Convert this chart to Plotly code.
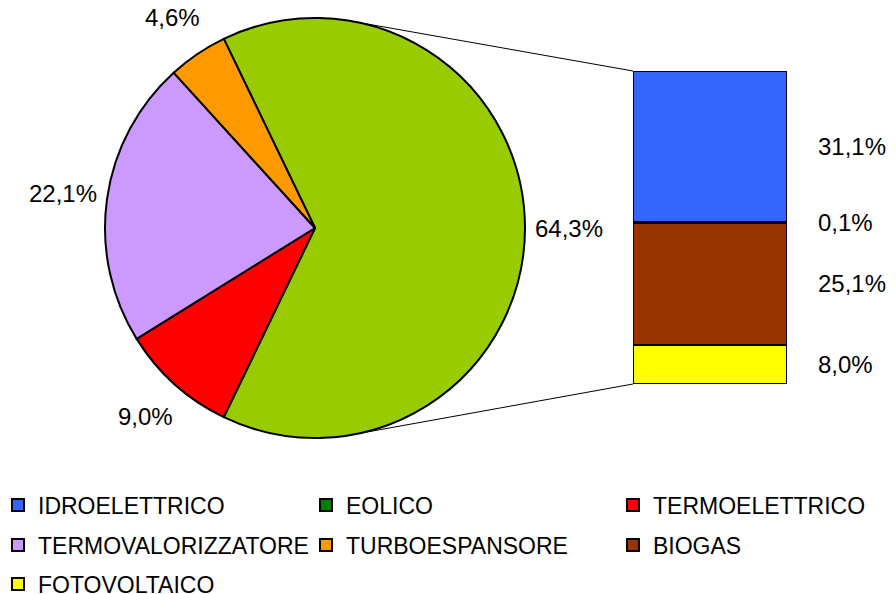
import math
import plotly.graph_objects as go

# ---------------- data ----------------
pie_categories = ["TERMOELETTRICO", "TERMOVALORIZZATORE", "TURBOESPANSORE"]
pie_values = [9.0, 22.1, 4.6]
bar_categories = ["IDROELETTRICO", "EOLICO", "BIOGAS", "FOTOVOLTAICO"]  # top -> bottom
bar_values = [31.1, 0.1, 25.1, 8.0]
legend_order = ["IDROELETTRICO", "EOLICO", "TERMOELETTRICO",
                "TERMOVALORIZZATORE", "TURBOESPANSORE", "BIOGAS",
                "FOTOVOLTAICO"]
colors = {
    "ALTRE": "#99CC00",
    "TERMOELETTRICO": "#FF0000",
    "TERMOVALORIZZATORE": "#CC99FF",
    "TURBOESPANSORE": "#FF9900",
    "IDROELETTRICO": "#3366FF",
    "EOLICO": "#008000",
    "BIOGAS": "#993300",
    "FOTOVOLTAICO": "#FFFF00",
}

# ---------------- geometry (pixels) ----------------
W, H = 896, 594
CX, CY, R = 315, 228, 210          # pie centre / radius
BX0, BX1, BY0, BY1 = 633, 787, 71, 384  # bar box
LEG_COLS = [-2, 306, 613]          # legend column left edges
LEG_ROWS = [505, 545, 584]         # legend row centres
FONT = "Liberation Sans, Arial, sans-serif"
FS_LEG = 23
FS_LAB = 24

other_total = sum(bar_values)
all_labels = ["ALTRE"] + pie_categories
all_values = [other_total] + pie_values
grand = sum(all_values)


def fmt(v):
    return f"{v:.1f}%".replace(".", ",")


fig = go.Figure()

# pie: "other" slice centred at 3 o'clock, clockwise
other_frac = other_total / grand
rotation = 90 - other_frac * 360 / 2
fig.add_trace(go.Pie(
    labels=all_labels, values=all_values, sort=False, direction="clockwise",
    rotation=rotation,
    marker=dict(colors=[colors[l] for l in all_labels], line=dict(color="black", width=2)),
    textinfo="none", showlegend=False, hoverinfo="label+percent",
    domain=dict(x=[(CX - R) / W, (CX + R) / W], y=[1 - (CY + R) / H, 1 - (CY - R) / H]),
))

# one legend per entry so each can sit exactly in its grid cell
legend_id = {}
legends = {}
for i, name in enumerate(legend_order):
    lid = "legend" if i == 0 else f"legend{i + 1}"
    legend_id[name] = lid
    legends[lid] = dict(
        orientation="v", xref="paper", yref="paper",
        x=LEG_COLS[i % 3] / W, y=1 - LEG_ROWS[i // 3] / H,
        xanchor="left", yanchor="middle",
        font=dict(size=FS_LEG, color="black", family=FONT),
        bgcolor="rgba(0,0,0,0)", borderwidth=0, itemclick=False,
    )

# stacked bar (bottom -> top)
for name, val in reversed(list(zip(bar_categories, bar_values))):
    fig.add_trace(go.Bar(
        x=[""], y=[val], name=name, cliponaxis=False,
        marker=dict(color=colors[name], line=dict(color="black", width=2)),
        legend=legend_id[name],
    ))
# legend entries for pie categories
for name in pie_categories:
    fig.add_trace(go.Bar(
        x=[None], y=[None], name=name,
        marker=dict(color=colors[name], line=dict(color="black", width=2)),
        legend=legend_id[name],
    ))

annotations = []
# pie labels along slice mid-angle
start = rotation
for lab, val in zip(all_labels, all_values):
    span = val / grand * 360
    mid = math.radians(start + span / 2)
    start += span
    rr = R + 44
    px = CX + rr * math.sin(mid)
    py = CY - rr * math.cos(mid)
    annotations.append(dict(x=px / W, y=1 - py / H, xref="paper", yref="paper",
                            text=fmt(val / grand * 100), showarrow=False,
                            xanchor="center", yanchor="middle",
                            font=dict(size=FS_LAB, color="black", family=FONT)))

# bar labels at segment centres
cum = 0
for name, val in reversed(list(zip(bar_categories, bar_values))):
    annotations.append(dict(x=816 / W, y=cum + val / 2, xref="paper", yref="y",
                            text=fmt(val), showarrow=False, xanchor="left",
                            yanchor="middle",
                            font=dict(size=FS_LAB, color="black", family=FONT)))
    cum += val

# connector lines: tangents from bar's left corners to the pie
shapes = []
for (px, py), pick in (((BX0, BY0), min), ((BX0, BY1), max)):
    dx, dy = px - CX, py - CY
    d = math.hypot(dx, dy)
    a = math.acos(R / d)
    phi = math.atan2(dy, dx)
    cands = [(CX + R * math.cos(phi + s * a), CY + R * math.sin(phi + s * a)) for s in (1, -1)]
    tx, ty = pick(cands, key=lambda p: p[1])
    shapes.append(dict(type="line", xref="paper", yref="paper",
                       x0=tx / W, y0=1 - ty / H, x1=px / W, y1=1 - py / H,
                       line=dict(color="black", width=1)))

fig.update_layout(
    width=W, height=H, margin=dict(l=0, r=0, t=0, b=0, autoexpand=False),
    paper_bgcolor="white", plot_bgcolor="white",
    barmode="stack", bargap=0,
    font=dict(family=FONT, size=FS_LEG, color="black"),
    xaxis=dict(domain=[BX0 / W, BX1 / W], range=[-0.5, 0.5], visible=False, fixedrange=True),
    yaxis=dict(domain=[1 - BY1 / H, 1 - BY0 / H], range=[0, other_total], visible=False, fixedrange=True),
    annotations=annotations, shapes=shapes,
    showlegend=True,
    **legends,
)

fig.write_html(
    "out.html",
    config={"displayModeBar": False},
    post_script="document.body.style.margin='0px';document.body.style.overflow='hidden';",
)
